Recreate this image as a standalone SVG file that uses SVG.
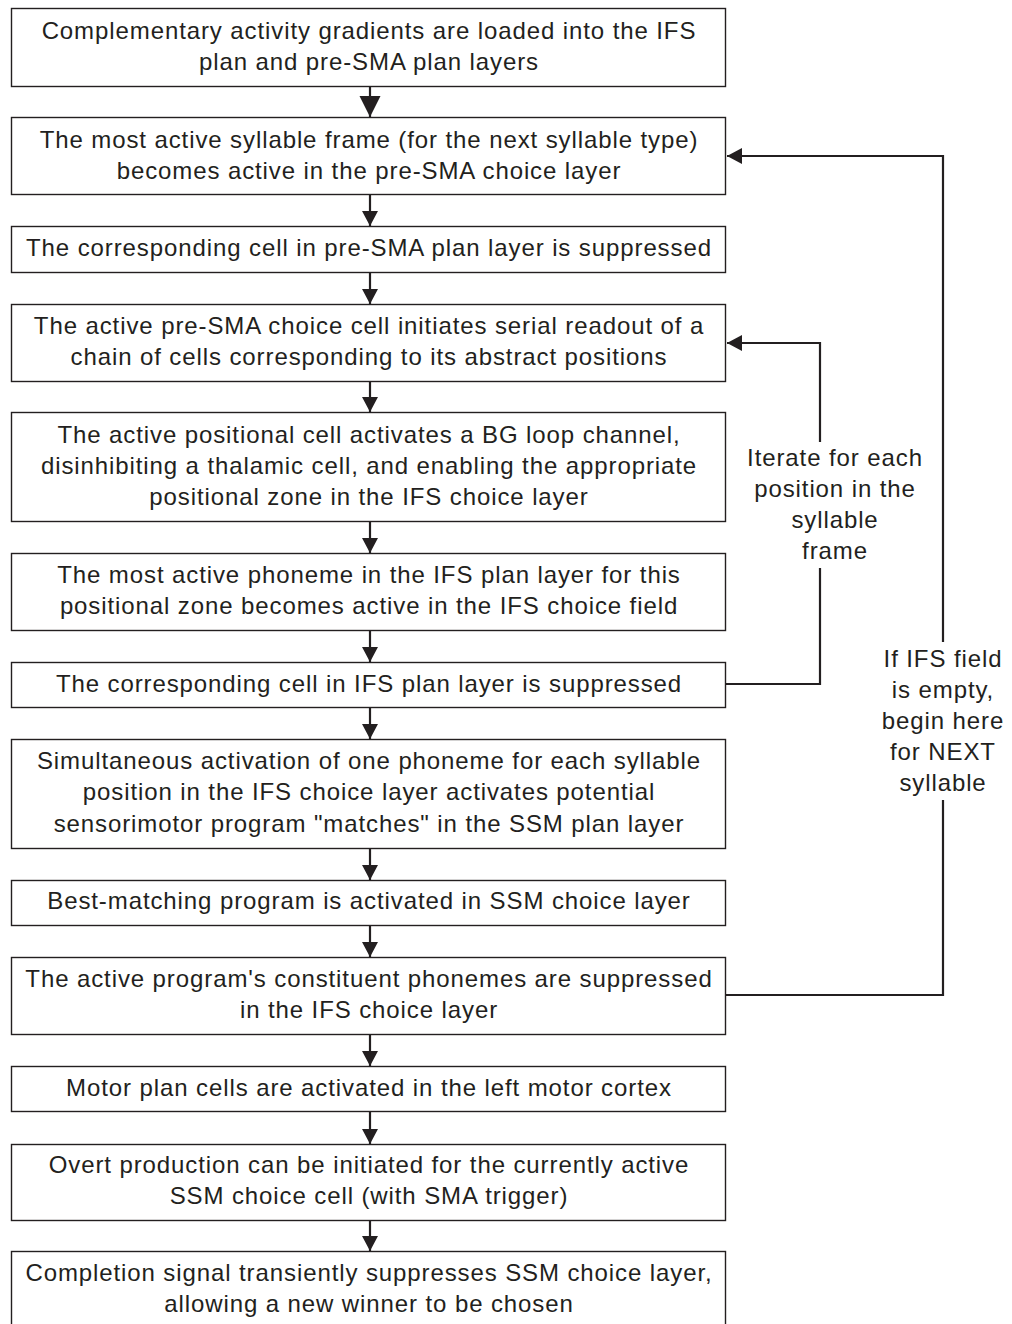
<svg xmlns="http://www.w3.org/2000/svg" width="1012" height="1324" viewBox="0 0 1012 1324">
<style>
.box{fill:#fff;stroke:#231f20;stroke-width:1.4}
.t{font-family:"Liberation Sans",Arial,sans-serif;font-size:24px;letter-spacing:0.9px;fill:#231f20;text-anchor:middle}
.c{fill:none;stroke:#231f20;stroke-width:2.2}
</style>
<defs>
<marker id="ah" markerWidth="16" markerHeight="16" refX="15" refY="8" orient="auto" markerUnits="userSpaceOnUse">
<path d="M0,0 L15,8 L0,16 Z" fill="#231f20"/>
</marker>
<marker id="ahb" markerWidth="22" markerHeight="22" refX="21" refY="10.5" orient="auto" markerUnits="userSpaceOnUse">
<path d="M0,0 L21,10.5 L0,21 Z" fill="#231f20"/>
</marker>
</defs>
<rect width="1012" height="1324" fill="#fff"/>
<g id="connectors">
<line class="c" x1="370" y1="86" x2="370" y2="117" marker-end="url(#ahb)"/>
<line class="c" x1="370" y1="195" x2="370" y2="226" marker-end="url(#ah)"/>
<line class="c" x1="370" y1="272" x2="370" y2="304" marker-end="url(#ah)"/>
<line class="c" x1="370" y1="381" x2="370" y2="412" marker-end="url(#ah)"/>
<line class="c" x1="370" y1="521" x2="370" y2="553" marker-end="url(#ah)"/>
<line class="c" x1="370" y1="630" x2="370" y2="662" marker-end="url(#ah)"/>
<line class="c" x1="370" y1="707" x2="370" y2="739" marker-end="url(#ah)"/>
<line class="c" x1="370" y1="848" x2="370" y2="880" marker-end="url(#ah)"/>
<line class="c" x1="370" y1="925" x2="370" y2="957" marker-end="url(#ah)"/>
<line class="c" x1="370" y1="1034" x2="370" y2="1066" marker-end="url(#ah)"/>
<line class="c" x1="370" y1="1112" x2="370" y2="1144" marker-end="url(#ah)"/>
<line class="c" x1="370" y1="1220" x2="370" y2="1251" marker-end="url(#ah)"/>
<polyline class="c" points="726,684 820,684 820,568"/>
<polyline class="c" points="820,442 820,343 727,343" marker-end="url(#ah)"/>
<polyline class="c" points="726,995 943,995 943,800"/>
<polyline class="c" points="943,642 943,156 727,156" marker-end="url(#ah)"/>
</g>
<g id="n1"><rect class="box" x="11.5" y="8.5" width="714" height="78"/>
<text class="t" x="369" y="39">Complementary activity gradients are loaded into the IFS</text>
<text class="t" x="369" y="70">plan and pre-SMA plan layers</text></g>
<g id="n2"><rect class="box" x="11.5" y="117.5" width="714" height="77"/>
<text class="t" x="369" y="148">The most active syllable frame (for the next syllable type)</text>
<text class="t" x="369" y="179">becomes active in the pre-SMA choice layer</text></g>
<g id="n3"><rect class="box" x="11.5" y="226.5" width="714" height="46"/>
<text class="t" x="369" y="256">The corresponding cell in pre-SMA plan layer is suppressed</text></g>
<g id="n4"><rect class="box" x="11.5" y="304.5" width="714" height="77"/>
<text class="t" x="369" y="334">The active pre-SMA choice cell initiates serial readout of a</text>
<text class="t" x="369" y="365">chain of cells corresponding to its abstract positions</text></g>
<g id="n5"><rect class="box" x="11.5" y="412.5" width="714" height="109"/>
<text class="t" x="369" y="443">The active positional cell activates a BG loop channel,</text>
<text class="t" x="369" y="474">disinhibiting a thalamic cell, and enabling the appropriate</text>
<text class="t" x="369" y="505">positional zone in the IFS choice layer</text></g>
<g id="n6"><rect class="box" x="11.5" y="553.5" width="714" height="77"/>
<text class="t" x="369" y="583">The most active phoneme in the IFS plan layer for this</text>
<text class="t" x="369" y="614">positional zone becomes active in the IFS choice field</text></g>
<g id="n7"><rect class="box" x="11.5" y="662.5" width="714" height="45"/>
<text class="t" x="369" y="692">The corresponding cell in IFS plan layer is suppressed</text></g>
<g id="n8"><rect class="box" x="11.5" y="739.5" width="714" height="109"/>
<text class="t" x="369" y="769">Simultaneous activation of one phoneme for each syllable</text>
<text class="t" x="369" y="800">position in the IFS choice layer activates potential</text>
<text class="t" x="369" y="832">sensorimotor program "matches" in the SSM plan layer</text></g>
<g id="n9"><rect class="box" x="11.5" y="880.5" width="714" height="45"/>
<text class="t" x="369" y="909">Best-matching program is activated in SSM choice layer</text></g>
<g id="n10"><rect class="box" x="11.5" y="957.5" width="714" height="77"/>
<text class="t" x="369" y="987">The active program's constituent phonemes are suppressed</text>
<text class="t" x="369" y="1018">in the IFS choice layer</text></g>
<g id="n11"><rect class="box" x="11.5" y="1066.5" width="714" height="45"/>
<text class="t" x="369" y="1096">Motor plan cells are activated in the left motor cortex</text></g>
<g id="n12"><rect class="box" x="11.5" y="1144.5" width="714" height="76"/>
<text class="t" x="369" y="1173">Overt production can be initiated for the currently active</text>
<text class="t" x="369" y="1204">SSM choice cell (with SMA trigger)</text></g>
<g id="n13"><rect class="box" x="11.5" y="1251.5" width="714" height="80"/>
<text class="t" x="369" y="1281">Completion signal transiently suppresses SSM choice layer,</text>
<text class="t" x="369" y="1312">allowing a new winner to be chosen</text></g>
<g id="label-iterate">
<text class="t" x="835" y="466">Iterate for each</text>
<text class="t" x="835" y="497">position in the</text>
<text class="t" x="835" y="528">syllable</text>
<text class="t" x="835" y="559">frame</text></g>
<g id="label-next">
<text class="t" x="943" y="667">If IFS field</text>
<text class="t" x="943" y="698">is empty,</text>
<text class="t" x="943" y="729">begin here</text>
<text class="t" x="943" y="760">for NEXT</text>
<text class="t" x="943" y="791">syllable</text></g>
</svg>
